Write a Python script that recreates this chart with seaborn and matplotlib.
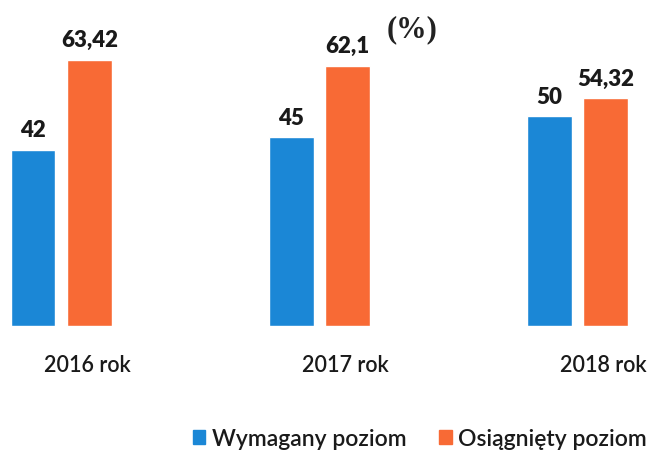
import matplotlib
matplotlib.use("Agg")
import pandas as pd
import matplotlib.pyplot as plt
import matplotlib.transforms as mtransforms
import seaborn as sns

years = ["2016 rok", "2017 rok", "2018 rok"]
series = ["Wymagany poziom", "Osiągnięty poziom"]
wymagany = [42, 45, 50]
osiagniety = [63.42, 62.1, 54.32]
colors = ["#1B87D6", "#F86A35"]

df = pd.DataFrame({
    "rok": years * 2,
    "seria": [series[0]] * 3 + [series[1]] * 3,
    "wartosc": wymagany + osiagniety,
})

sns.set_theme(style="white")
plt.rcParams["font.family"] = ["Lato", "DejaVu Sans"]

fig = plt.figure(figsize=(6.49, 4.52), dpi=100)
ax = fig.add_axes([0, 125 / 452, 1, 327 / 452])

sns.barplot(data=df, x="rok", y="wartosc", hue="seria", palette=colors,
            width=0.44, gap=0.21, saturation=1, ax=ax, legend=False)

ax.set_xlim(-0.238, 2.277)
ax.set_ylim(0, 78)
for s in ax.spines.values():
    s.set_visible(False)
ax.set_yticks([])
ax.set_xlabel("")
ax.set_ylabel("")

# etykiety wartosci z przecinkiem dziesietnym
for c in ax.containers:
    ax.bar_label(c, labels=[f"{v:g}".replace(".", ",") for v in c.datavalues],
                 padding=7, fontsize=16, fontweight=800, color="#1a1a1a")

ax.tick_params(axis="x", length=0, pad=20, labelsize=15.5, labelcolor="#1a1a1a")
shift = mtransforms.ScaledTranslation(26 / 100, 0, fig.dpi_scale_trans)
for lab in ax.get_xticklabels():
    lab.set_transform(lab.get_transform() + shift)
    lab.set_fontweight(600)

fig.text(412 / 649, 1 - 30 / 452, "(%)", ha="center", va="center",
         fontsize=22, fontweight="bold", family="Liberation Serif", color="#222222")

handles = [plt.Rectangle((0, 0), 1, 1, color=col) for col in colors]
leg = fig.legend(handles, series, loc="center", bbox_to_anchor=(420 / 649, 1 - 440 / 452),
                 ncol=2, frameon=False, fontsize=16.5, handlelength=0.55, handleheight=0.55,
                 handletextpad=0.3, columnspacing=1.4, labelcolor="#1a1a1a")
for t in leg.get_texts():
    t.set_fontweight(600)

fig.savefig("out.png", dpi=100)
